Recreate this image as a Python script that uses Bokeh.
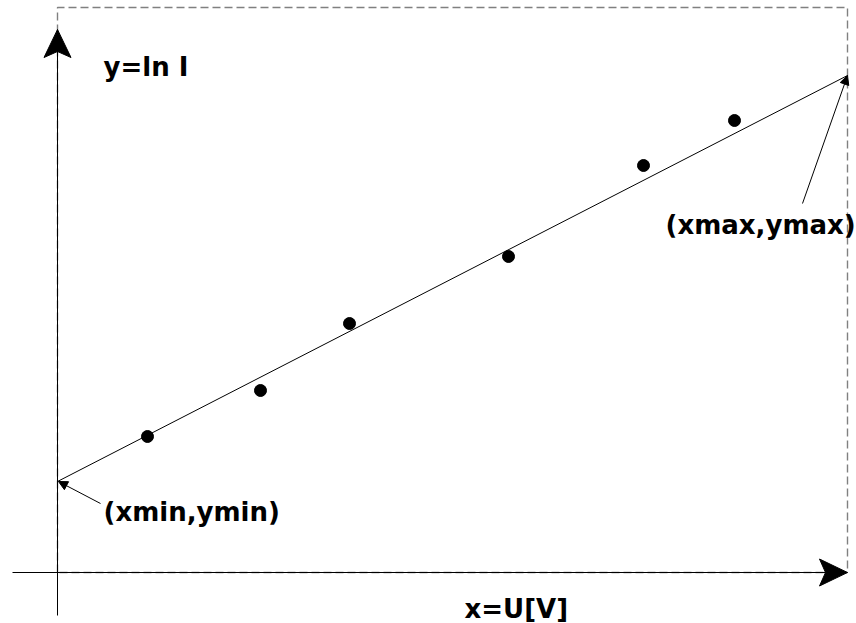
from bokeh.plotting import figure
from bokeh.models import Range1d, Arrow, NormalHead, ColumnDataSource
from bokeh.core.properties import value
from bokeh.embed import file_html
from bokeh.resources import INLINE

# --- data (schematic units) ---
u_points = [0.90, 2.03, 2.92, 4.51, 5.86, 6.77]
lnI_points = [1.36, 1.82, 2.49, 3.16, 4.07, 4.52]
fit_x = [0.0, 7.90]          # xmin, xmax
fit_y = [0.91, 4.97]         # ymin, ymax
axis_x_extent = [-0.45, 7.90]
axis_y_extent = [-0.43, 5.43]
box_top = 5.65
label_x = ["y=ln I", "x=U[V]"]
note_text = ["(xmin,ymin)", "(xmax,ymax)"]

p = figure(width=856, height=623, output_backend="svg", toolbar_location=None,
           x_range=Range1d(-0.57, 7.99), y_range=Range1d(-0.51, 5.72),
           min_border=0, min_border_left=0, min_border_right=0,
           min_border_top=0, min_border_bottom=0)
p.axis.visible = False
p.grid.visible = False
p.outline_line_color = None
p.background_fill_color = "white"
p.border_fill_color = "white"

# dashed bounding box
p.line([fit_x[0], fit_x[0], fit_x[1], fit_x[1], fit_x[0]],
       [0, box_top, box_top, 0, 0],
       line_color="#808080", line_width=1.4, line_dash="8 4")

# axes
p.line(axis_x_extent, [0, 0], line_color="black", line_width=1)
p.line([0, 0], axis_y_extent, line_color="black", line_width=1)

# arrowheads on axes
hw = 0.135
tipx = axis_x_extent[1]
p.patch([tipx, tipx - 0.28, tipx - 0.22, tipx - 0.28], [0, hw, 0, -hw],
        fill_color="black", line_color="black", line_width=1)
tipy = axis_y_extent[1]
p.patch([0, hw, 0, -hw], [tipy, tipy - 0.28, tipy - 0.22, tipy - 0.28],
        fill_color="black", line_color="black", line_width=1)

# fit line
p.line(fit_x, fit_y, line_color="black", line_width=1)

# data points
p.scatter(u_points, lnI_points, size=12, marker="circle",
          fill_color="black", line_color="black")

# annotation arrows
p.add_layout(Arrow(end=NormalHead(size=9, fill_color="black", line_color="black", line_width=1),
                   x_start=0.43, y_start=0.69, x_end=fit_x[0] + 0.01, y_end=fit_y[0],
                   line_color="black", line_width=1))
p.add_layout(Arrow(end=NormalHead(size=9, fill_color="black", line_color="black", line_width=1),
                   x_start=7.45, y_start=3.69, x_end=fit_x[1], y_end=fit_y[1],
                   line_color="black", line_width=1))

# texts
font = value("DejaVu Sans")
src = ColumnDataSource(dict(
    x=[0.46, 4.07, 0.46, 6.08],
    y=[5.06, -0.36, 0.61, 3.48],
    t=[label_x[0], label_x[1], note_text[0], note_text[1]],
))
p.text(x="x", y="y", text="t", source=src, text_font=font, text_font_size="26px",
       text_font_style="bold", text_baseline="alphabetic", text_align="left",
       text_color="black")

open("out.html", "w").write(file_html(p, INLINE))
